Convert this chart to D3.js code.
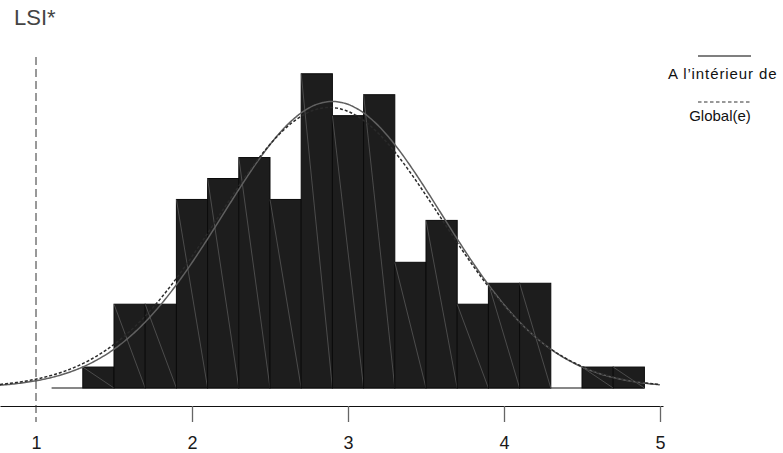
<!DOCTYPE html>
<html>
<head>
<meta charset="utf-8">
<script src="https://cdn.jsdelivr.net/npm/d3@7"></script>
<style>
  body { margin: 0; background: #fff; }
  svg { display: block; font-family: "Liberation Sans", Arial, sans-serif; }
</style>
</head>
<body>
<div id="chart"></div>
<script>
// histogramme LSI*, classes de 0.2
const binStarts = [1.1, 1.3, 1.5, 1.7, 1.9, 2.1, 2.3, 2.5, 2.7, 2.9, 3.1, 3.3, 3.5, 3.7, 3.9, 4.1, 4.3, 4.5, 4.7];
const counts    = [0,   1,   4,   4,   9,   10,  11,  9,   15,  13,  14,  6,   8,   4,   5,   5,   0,   1,   1];
const binWidth = 0.2;

// courbes normales ajustées : [moyenne, écart-type]
const curveNames = ["A l’intérieur de", "Global(e)"];
const curveMeans = [2.90, 2.88];
const curveSds   = [0.70, 0.715];

const tickValues = [1, 2, 3, 4, 5];
const refLine = 1;

const width = 783, height = 453;
const svg = d3.select("#chart").append("svg")
    .attr("width", width).attr("height", height);

const x = d3.scaleLinear().domain([1, 5]).range([36, 660]);
const y = d3.scaleLinear().domain([0, 15]).range([388, 73.75]);

// titre
svg.append("text")
    .attr("x", 14).attr("y", 25)
    .attr("font-size", 22)
    .attr("fill", "#444")
    .text("LSI*");

// ligne de base (y compris classes vides)
svg.append("line")
    .attr("x1", x(binStarts[0])).attr("x2", x(binStarts[binStarts.length - 1] + binWidth))
    .attr("y1", y(0)).attr("y2", y(0))
    .attr("stroke", "#111").attr("stroke-width", 1.2);

// barres
const bars = svg.append("g").selectAll("g")
    .data(binStarts.map((b, i) => ({ start: b, n: counts[i] })).filter(d => d.n > 0))
    .join("g");

bars.append("rect")
    .attr("x", d => x(d.start))
    .attr("y", d => y(d.n))
    .attr("width", d => x(d.start + binWidth) - x(d.start))
    .attr("height", d => y(0) - y(d.n))
    .attr("fill", "#1d1d1d")
    .attr("stroke", "#0a0a0a")
    .attr("stroke-width", 1);

// petites diagonales claires dans les barres
bars.append("line")
    .attr("x1", d => x(d.start))
    .attr("y1", d => y(d.n))
    .attr("x2", d => x(d.start + binWidth))
    .attr("y2", y(0))
    .attr("stroke", "#7a7a7a")
    .attr("stroke-width", 0.5);

// courbes
const total = d3.sum(counts);
function normalPoints(mu, sd) {
    const pts = [];
    const x0 = x.invert(0), x1 = 5.0;
    for (let v = x0; v <= x1 + 1e-9; v += 0.01) {
        const dens = Math.exp(-0.5 * ((v - mu) / sd) ** 2) / (sd * Math.sqrt(2 * Math.PI));
        pts.push([v, dens * total * binWidth]);
    }
    return pts;
}
const line = d3.line().x(d => x(d[0])).y(d => y(d[1])).curve(d3.curveBasis);

svg.append("path")
    .attr("d", line(normalPoints(curveMeans[0], curveSds[0])))
    .attr("fill", "none")
    .attr("stroke", "#606060")
    .attr("stroke-width", 1.5);

svg.append("path")
    .attr("d", line(normalPoints(curveMeans[1], curveSds[1])))
    .attr("fill", "none")
    .attr("stroke", "#2a2a2a")
    .attr("stroke-width", 1.5)
    .attr("stroke-dasharray", "3,2");

// axe x
const xAxisScale = x.copy().domain([x.invert(0), x.invert(663)]).range([0, 663]);
const axis = svg.append("g")
    .attr("transform", "translate(0,406)")
    .call(d3.axisBottom(xAxisScale).tickValues(tickValues).tickFormat(d3.format("d"))
        .tickSize(16).tickSizeOuter(0).tickPadding(14));
axis.select(".domain").attr("stroke", "#111");
axis.selectAll(".tick line").attr("stroke", "#666").attr("stroke-width", 1.3);
axis.selectAll(".tick").filter(d => d === refLine).select("line").remove();
axis.selectAll(".tick text")
    .attr("font-size", 18)
    .attr("fill", "#1a1a1a")
    .attr("font-family", "Liberation Sans, Arial, sans-serif");

// ligne de référence
svg.append("line")
    .attr("x1", x(refLine)).attr("x2", x(refLine))
    .attr("y1", 57).attr("y2", 422)
    .attr("stroke", "#333")
    .attr("stroke-width", 1)
    .attr("stroke-dasharray", "8,4");

// légende
const legend = svg.append("g");
legend.append("line")
    .attr("x1", 698).attr("x2", 751).attr("y1", 56).attr("y2", 56)
    .attr("stroke", "#555").attr("stroke-width", 1.3);
legend.append("text")
    .attr("x", 668).attr("y", 79)
    .attr("font-size", 15)
    .attr("letter-spacing", 0.9)
    .attr("fill", "#111")
    .text(curveNames[0]);
legend.append("line")
    .attr("x1", 698).attr("x2", 750).attr("y1", 102).attr("y2", 102)
    .attr("stroke", "#333").attr("stroke-width", 1.2)
    .attr("stroke-dasharray", "3.5,2.5");
legend.append("text")
    .attr("x", 720).attr("y", 121)
    .attr("text-anchor", "middle")
    .attr("font-size", 15)
    .attr("fill", "#111")
    .text(curveNames[1]);
</script>
</body>
</html>
